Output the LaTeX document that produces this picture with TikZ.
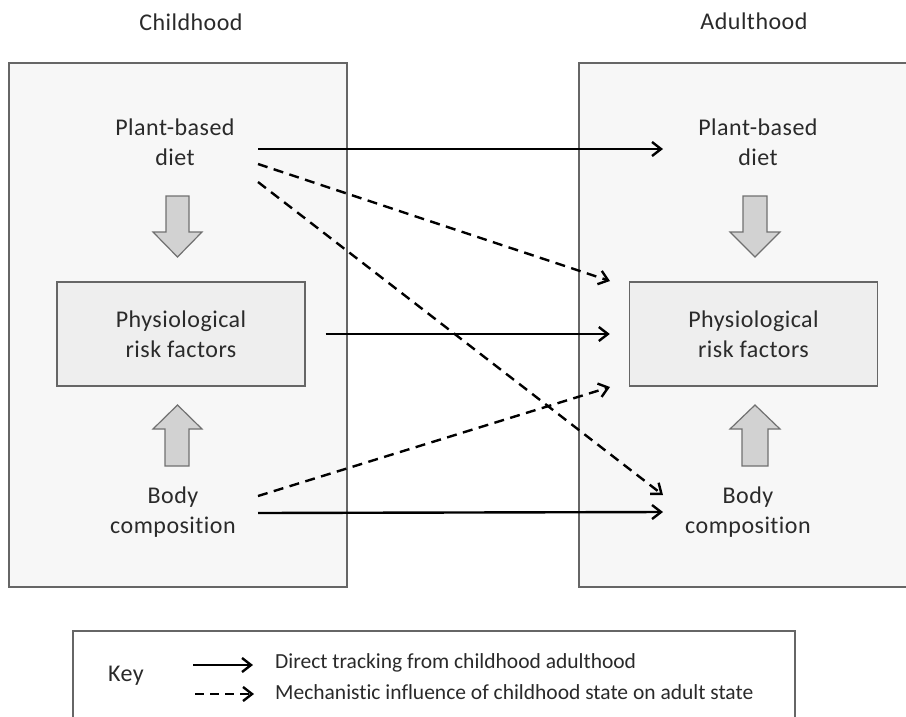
\documentclass[tikz,border=0pt]{standalone}
\usepackage{fontspec}
\setmainfont{Carlito}[Ligatures={NoCommon}, LetterSpace=2]
\newfontfamily\keyfont{Carlito}[Ligatures={NoCommon}]
\usetikzlibrary{arrows.meta}
\definecolor{txt}{HTML}{2A2A2A}
\definecolor{bigfill}{HTML}{F7F7F7}
\definecolor{innerfill}{HTML}{EEEEEE}
\definecolor{boxline}{HTML}{666666}
\definecolor{blockfill}{HTML}{D2D2D2}
\definecolor{blockline}{HTML}{707070}
\tikzset{
  lbl/.style={font=\fontsize{24}{29.5}\selectfont, text=txt, align=center, inner sep=0pt},
  keytext/.style={font=\keyfont\fontsize{21.5}{26}\selectfont, text=txt, anchor=west, inner sep=0pt},
  bigbox/.style={draw=boxline, line width=1.5pt, fill=bigfill},
  innerbox/.style={draw=boxline, line width=1.4pt, fill=innerfill, minimum width=248pt, minimum height=104pt, inner sep=0pt, font=\fontsize{24}{29.5}\selectfont, text=txt, align=center},
  blockarrow/.style={draw=blockline, line width=1.2pt, fill=blockfill},
  direct/.style={line width=2.4pt, -{Straight Barb[length=9pt,width=14pt,line width=2.4pt]}},
  mech/.style={direct, dash pattern=on 10pt off 6.5pt}
}
\begin{document}
\begin{tikzpicture}[x=1pt,y=-1pt]
\useasboundingbox (0,0) rectangle (906,716);
\clip (0,0) rectangle (906,716);
% titles
\node[lbl] (tchild) at (191,22) {Childhood};
\node[lbl] (tadult) at (754,21) {Adulthood};
% big boxes
\draw[bigbox] (9,63) rectangle (347,587);
\draw[bigbox] (579,63) rectangle (930,587);
% inner boxes
\node[innerbox] (cphys) at (181,334) {Physiological\\risk factors};
\node[innerbox] (aphys) at (753.5,334) {Physiological\\risk factors};
% texts
\node[lbl] (cplant) at (175,142) {Plant-based\\diet};
\node[lbl] (aplant) at (758,142) {Plant-based\\diet};
\node[lbl] (cbody) at (173,512) {Body\\composition};
\node[lbl] (abody) at (748,512) {Body\\composition};
% block arrows
\draw[blockarrow] (166,196) -- (189,196) -- (189,232) -- (202,232) -- (177.5,257) -- (153,232) -- (166,232) -- cycle;
\draw[blockarrow] (743,196) -- (767,196) -- (767,232) -- (780,232) -- (755,257) -- (730,232) -- (743,232) -- cycle;
\draw[blockarrow] (165,466) -- (189,466) -- (189,429) -- (202,429) -- (177.5,405) -- (153,429) -- (165,429) -- cycle;
\draw[blockarrow] (742,466) -- (768,466) -- (768,429) -- (780,429) -- (755,405) -- (730,429) -- (742,429) -- cycle;
% connector endpoints
\coordinate (p1s) at (258,149); \coordinate (p1e) at (663,149);
\coordinate (p2s) at (258,164); \coordinate (p2e) at (610,281);
\coordinate (p3s) at (258,182); \coordinate (p3e) at (663,495);
\coordinate (b1s) at (258,496); \coordinate (b1e) at (610,387);
\coordinate (b2s) at (258,513); \coordinate (b2e) at (663,512);
% connectors
\draw[direct] (p1s) -- (p1e);
\draw[mech] (p2s) -- (p2e);
\draw[mech] (p3s) -- (p3e);
\draw[direct] ([xshift=20pt]cphys.east) -- ([xshift=-19pt]aphys.west);
\draw[mech] (b1s) -- (b1e);
\draw[direct] (b2s) -- (b2e);
% key
\draw[draw=boxline, line width=1.5pt, fill=white] (73,631) rectangle (795,740);
\node[lbl, anchor=center] (key) at (126,676) {Key};
\coordinate (k1s) at (193,665); \coordinate (k1e) at (253,665);
\coordinate (k2s) at (195,694); \coordinate (k2e) at (254,694);
\draw[direct] (k1s) -- (k1e);
\draw[mech, dash pattern=on 9pt off 6pt] (k2s) -- (k2e);
\node[keytext] (kt1) at (275,663) {Direct tracking from childhood adulthood};
\node[keytext] (kt2) at (275,692) {Mechanistic influence of childhood state on adult state};
\end{tikzpicture}
\end{document}
